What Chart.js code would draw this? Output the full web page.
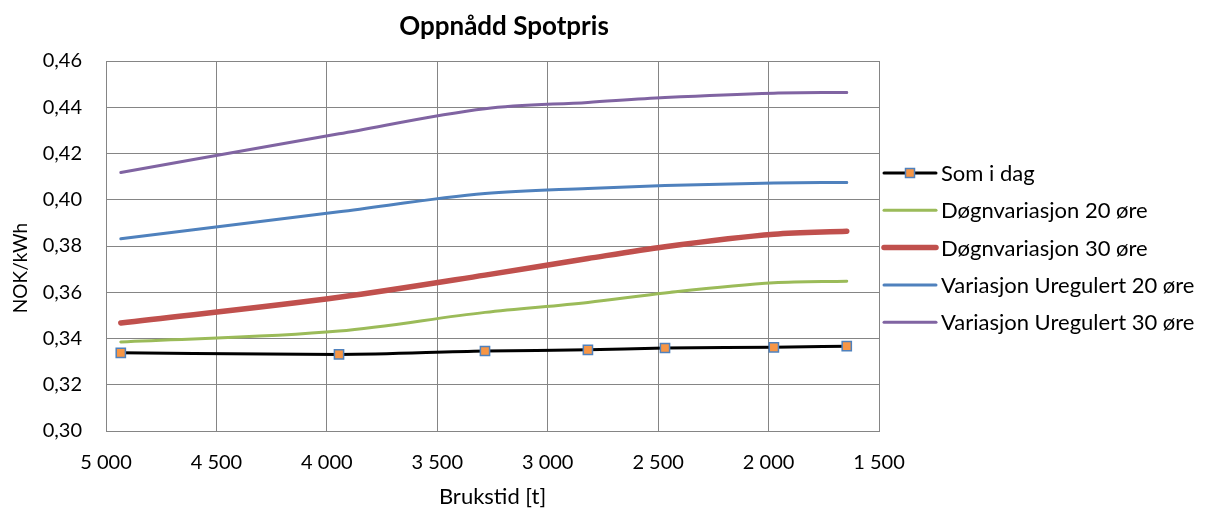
<!DOCTYPE html>
<html>
<head>
<meta charset="utf-8">
<script src="https://cdn.jsdelivr.net/npm/chart.js@4/dist/chart.umd.min.js"></script>
<style>
  html, body { margin: 0; padding: 0; background: #fff; }
  #wrap { width: 1205px; height: 511px; }
</style>
</head>
<body>
<div id="wrap"><canvas id="c" width="1205" height="511"></canvas></div>
<script>
// Brukstid (hours) for each computed case
const brukstid = [4933, 3945, 3284, 2818, 2469, 1976, 1646];

// Oppnådd spotpris, NOK/kWh
const somIDag = [0.3338, 0.3331, 0.3346, 0.3351, 0.3359, 0.3362, 0.3367];
const dognvariasjon20 = [0.3385, 0.3432, 0.3513, 0.3556, 0.3597, 0.3641, 0.3648];
const dognvariasjon30 = [0.3467, 0.3578, 0.3674, 0.3746, 0.3797, 0.3851, 0.3864];
const uregulert20 = [0.3831, 0.3948, 0.4027, 0.4049, 0.4062, 0.4072, 0.4075];
const uregulert30 = [0.4118, 0.4285, 0.4394, 0.4421, 0.4442, 0.4461, 0.4464];

const seriesNames = [
  'Som i dag',
  'Døgnvariasjon 20 øre',
  'Døgnvariasjon 30 øre',
  'Variasjon Uregulert 20 øre',
  'Variasjon Uregulert 30 øre'
];

const chartTitle = 'Oppnådd Spotpris';
const xTitle = 'Brukstid [t]';
const yTitle = 'NOK/kWh';

const FONT = 'Lato, "Liberation Sans", sans-serif';
const GRID = '#858585';

function pts(values) {
  return brukstid.map((x, i) => ({ x: x, y: values[i] }));
}

// Titles and the legend are painted directly on the canvas
const decorations = {
  id: 'decorations',
  afterDraw(chart) {
    const ctx = chart.ctx;
    const area = chart.chartArea;
    ctx.save();
    ctx.fillStyle = '#000';

    ctx.font = 'bold 26px ' + FONT;
    ctx.textAlign = 'center';
    ctx.textBaseline = 'middle';
    ctx.fillText(chartTitle, 504, 27);

    ctx.font = '22px ' + FONT;
    ctx.fillText(xTitle, (area.left + area.right) / 2, 497);

    ctx.save();
    ctx.font = '19px ' + FONT;
    ctx.translate(21, 268);
    ctx.rotate(-Math.PI / 2);
    ctx.fillText(yTitle, 0, 0);
    ctx.restore();

    // legend
    ctx.textAlign = 'left';
    ctx.font = '22px ' + FONT;
    chart.data.datasets.forEach((ds, i) => {
      const y = 173 + i * 37.3;
      ctx.strokeStyle = ds.borderColor;
      ctx.lineWidth = ds.borderWidth;
      ctx.lineCap = 'round';
      ctx.beginPath();
      ctx.moveTo(884, y);
      ctx.lineTo(936, y);
      ctx.stroke();
      if (ds.pointRadius > 0) {
        ctx.fillStyle = ds.pointBackgroundColor;
        ctx.strokeStyle = ds.pointBorderColor;
        ctx.lineWidth = ds.pointBorderWidth;
        ctx.beginPath();
        ctx.rect(905.5, y - 4.5, 9, 9);
        ctx.fill();
        ctx.stroke();
      }
      ctx.fillStyle = '#000';
      ctx.fillText(ds.label, 941, y + 1);
    });
    ctx.restore();
  }
};

new Chart(document.getElementById('c'), {
  type: 'line',
  data: {
    datasets: [
      {
        label: seriesNames[0], data: pts(somIDag),
        borderColor: '#000000', borderWidth: 3,
        pointStyle: 'rect', pointRadius: 6.5, pointHoverRadius: 6.5,
        pointBackgroundColor: '#f79646', pointBorderColor: '#4f81bd', pointBorderWidth: 1.5
      },
      {
        label: seriesNames[1], data: pts(dognvariasjon20),
        borderColor: '#9bbb59', borderWidth: 3, pointRadius: 0
      },
      {
        label: seriesNames[2], data: pts(dognvariasjon30),
        borderColor: '#c0504d', borderWidth: 5.5, pointRadius: 0
      },
      {
        label: seriesNames[3], data: pts(uregulert20),
        borderColor: '#4f81bd', borderWidth: 3, pointRadius: 0
      },
      {
        label: seriesNames[4], data: pts(uregulert30),
        borderColor: '#8064a2', borderWidth: 3, pointRadius: 0
      }
    ]
  },
  options: {
    responsive: false,
    animation: false,
    devicePixelRatio: 1,
    layout: { padding: { top: 61, right: 326, bottom: 0, left: 0 } },
    elements: {
      line: { cubicInterpolationMode: 'monotone', borderCapStyle: 'round', borderJoinStyle: 'round' }
    },
    plugins: {
      legend: { display: false },
      title: { display: false },
      tooltip: { enabled: false }
    },
    scales: {
      x: {
        type: 'linear',
        reverse: true,
        min: 1500,
        max: 5000,
        afterFit: s => { s.height = 80; },
        ticks: {
          stepSize: 500,
          padding: 20,
          color: '#000',
          font: { family: FONT, size: 20 },
          maxRotation: 0,
          callback: v => String(v).replace(/\B(?=(\d{3})+(?!\d))/g, ' ')
        },
        grid: { color: GRID, lineWidth: 1, drawTicks: false },
        border: { color: GRID, width: 1 }
      },
      y: {
        min: 0.30,
        max: 0.46,
        afterFit: s => { s.width = 106; },
        ticks: {
          stepSize: 0.02,
          padding: 24,
          color: '#000',
          font: { family: FONT, size: 20 },
          callback: v => v.toFixed(2).replace('.', ',')
        },
        grid: { color: GRID, lineWidth: 1, drawTicks: false },
        border: { color: GRID, width: 1 }
      }
    }
  },
  plugins: [decorations]
});
</script>
</body>
</html>
